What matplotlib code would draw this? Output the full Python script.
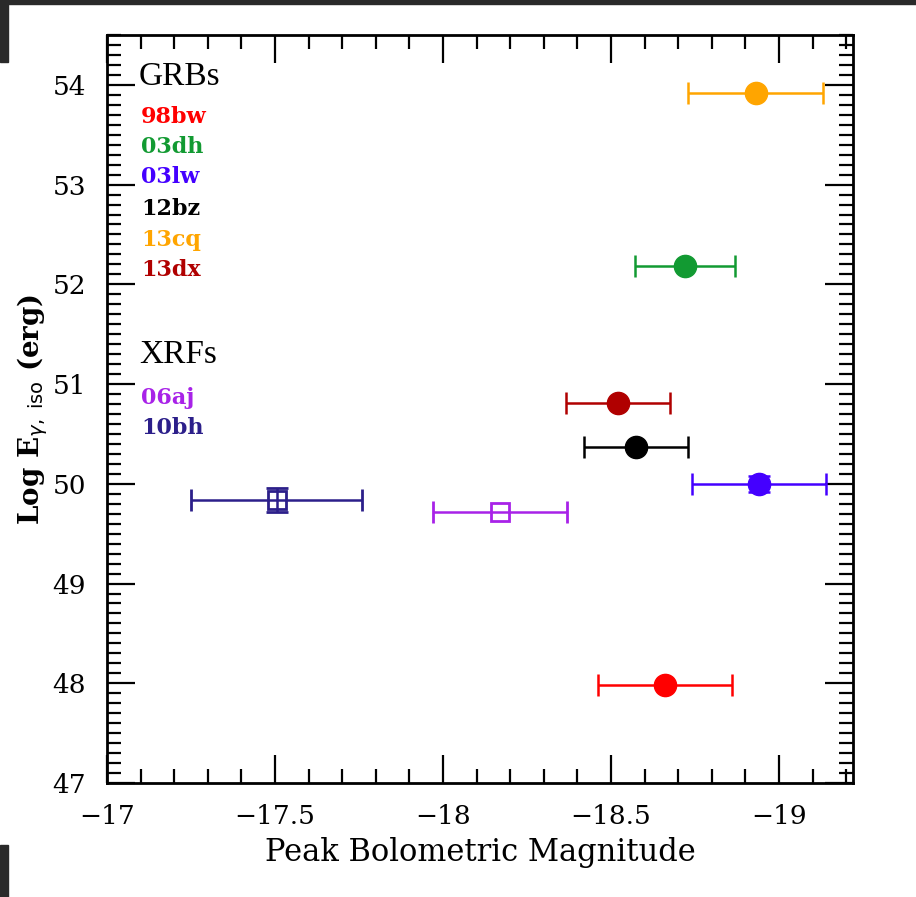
import matplotlib
matplotlib.use("Agg")
import matplotlib.pyplot as plt
from matplotlib.patches import Rectangle
from matplotlib.ticker import MultipleLocator, FuncFormatter

# GRBs: name, peak magnitude, magnitude error, log E_iso, log E error, colour
grb_names = ["98bw", "03dh", "03lw", "12bz", "13cq", "13dx"]
grb_mag = [-18.66, -18.72, -18.94, -18.575, -18.93, -18.52]
grb_mag_err = [0.20, 0.15, 0.20, 0.155, 0.20, 0.155]
grb_logE = [47.98, 52.18, 50.00, 50.37, 53.92, 50.81]
grb_logE_err = [0.0, 0.0, 0.08, 0.0, 0.0, 0.0]
grb_colors = ["#ff0000", "#129a32", "#4400ff", "#000000", "#ffa500", "#b00000"]

# XRFs
xrf_names = ["06aj", "10bh"]
xrf_mag = [-18.17, -17.505]
xrf_mag_err = [0.20, 0.255]
xrf_logE = [49.72, 49.84]
xrf_logE_err = [0.0, 0.12]
xrf_colors = ["#a822e8", "#2c1f8a"]

fig = plt.figure(figsize=(9.16, 8.97), dpi=100)
ax = fig.add_axes([107 / 916, 1 - 783 / 897, (853 - 107) / 916, (783 - 35) / 897])

for x, xe, y, ye, c in zip(grb_mag, grb_mag_err, grb_logE, grb_logE_err, grb_colors):
    ax.errorbar(x, y, xerr=xe, yerr=ye if ye > 0 else None, fmt="o", color=c,
                ms=16, elinewidth=1.8, capsize=8, capthick=1.8, zorder=3)

for x, xe, y, ye, c in zip(xrf_mag, xrf_mag_err, xrf_logE, xrf_logE_err, xrf_colors):
    ax.errorbar(x, y, xerr=xe, yerr=ye if ye > 0 else None, fmt="s", color=c,
                mfc="none", mec=c, mew=2, ms=13, elinewidth=1.8, capsize=8,
                capthick=1.8, zorder=3)

ax.set_xlim(-17, -19.22)
ax.set_ylim(47, 54.5)
ax.xaxis.set_major_locator(MultipleLocator(0.5))
ax.xaxis.set_minor_locator(MultipleLocator(0.1))
ax.yaxis.set_major_locator(MultipleLocator(1))
ax.yaxis.set_minor_locator(MultipleLocator(0.1))
ax.xaxis.set_major_formatter(FuncFormatter(lambda v, p: f"{v:g}".replace("-", "\u2212")))
ax.tick_params(which="both", direction="in", top=True, right=True, width=1.6)
ax.tick_params(which="major", length=20, labelsize=19, pad=15)
ax.tick_params(which="minor", length=10)
for lab in ax.get_xticklabels() + ax.get_yticklabels():
    lab.set_family("DejaVu Serif")
for s in ax.spines.values():
    s.set_linewidth(2)

ax.set_xlabel("Peak Bolometric Magnitude", fontsize=22, family="DejaVu Serif", labelpad=6)
ax.set_ylabel(r"Log E$_{\gamma,\ \rm iso}$ (erg)", fontsize=20, family="DejaVu Serif",
              fontweight="bold", labelpad=2)

def px(xp, yp):
    # pixel position in the picture -> axes fraction
    return (xp - 107) / (853 - 107), (783 - yp) / (783 - 35)

ax.text(*px(139, 77), "GRBs", transform=ax.transAxes, fontsize=24,
        family="Liberation Serif", va="center", ha="left")
label_y = [117, 147, 177, 209, 240, 270]
for name, c, yp in zip(grb_names, grb_colors, label_y):
    ax.text(*px(141, yp), name, transform=ax.transAxes, fontsize=16, color=c,
            family="DejaVu Serif", fontweight="bold", va="center", ha="left")

ax.text(*px(139, 355), "XRFs", transform=ax.transAxes, fontsize=24,
        family="Liberation Serif", va="center", ha="left")
for name, c, yp in zip(xrf_names, xrf_colors, [398, 428]):
    ax.text(*px(141, yp), name, transform=ax.transAxes, fontsize=16, color=c,
            family="DejaVu Serif", fontweight="bold", va="center", ha="left")

# dark screenshot edges
fig.patches.append(Rectangle((0, 1 - 4 / 897), 1, 4 / 897, transform=fig.transFigure,
                             color="#2a2a2a", zorder=0))
fig.patches.append(Rectangle((0, 1 - 62 / 897), 8 / 916, 62 / 897, transform=fig.transFigure,
                             color="#2a2a2a", zorder=0))
fig.patches.append(Rectangle((0, 0), 8 / 916, 52 / 897, transform=fig.transFigure,
                             color="#2a2a2a", zorder=0))

fig.savefig("out.png", dpi=100)
